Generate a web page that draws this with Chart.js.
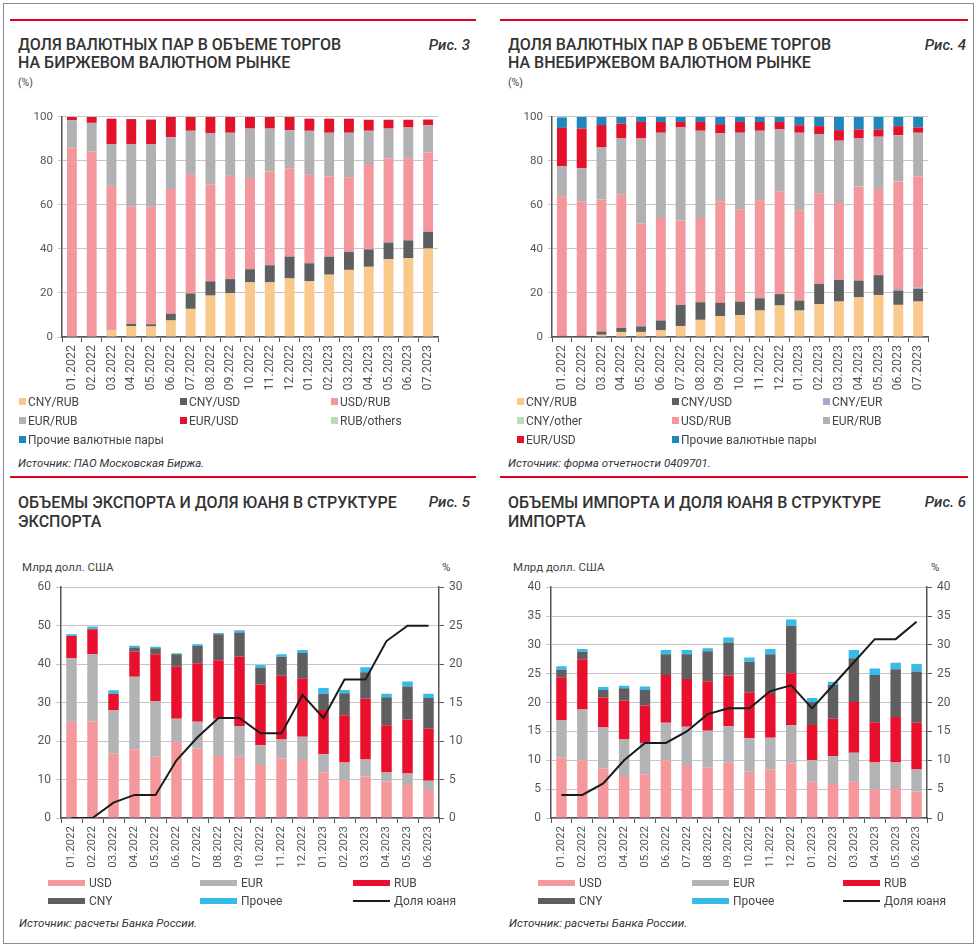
<!DOCTYPE html>
<html lang="ru">
<head>
<meta charset="utf-8">
<script src="https://cdn.jsdelivr.net/npm/chart.js@4.4.1/dist/chart.umd.min.js"></script>
<style>
  body { margin: 0; width: 979px; height: 949px; background: #fff; position: relative; overflow: hidden; font-family: Roboto, sans-serif; color: #333; }
  .frame { position: absolute; left: 3px; top: 3px; width: 971px; height: 941px; border: 1px solid #8c8c8c; box-sizing: border-box; }
  .rule { position: absolute; height: 2px; background: #e2001a; }
  .title { position: absolute; font-size: 16px; font-weight: 500; line-height: 18px; color: #333; white-space: nowrap; }
  .fig { position: absolute; font-size: 15px; font-style: italic; font-weight: 500; color: #333; white-space: nowrap; }
  .unit { position: absolute; font-size: 11.5px; color: #444; white-space: nowrap; }
  .src { position: absolute; font-size: 11.5px; font-style: italic; color: #333; white-space: nowrap; }
  .lg { position: absolute; font-size: 12px; color: #444; white-space: nowrap; line-height: 14px; }
  .lg span { display: inline-block; vertical-align: middle; }
  canvas { position: absolute; }
</style>
</head>
<body>
<div class="frame"></div>

<div class="rule" style="left:10px; top:19px; width:466px;"></div>
<div class="rule" style="left:500px; top:19px; width:468px;"></div>
<div class="rule" style="left:10px; top:476px; width:466px;"></div>
<div class="rule" style="left:500px; top:476px; width:468px;"></div>

<div class="title" style="left:18px; top:36px;">ДОЛЯ ВАЛЮТНЫХ ПАР В ОБЪЕМЕ ТОРГОВ<br>НА БИРЖЕВОМ ВАЛЮТНОМ РЫНКЕ</div>
<div class="fig" style="right:509px; top:36px;">Рис. 3</div>
<div class="unit" style="left:18px; top:76px; font-size:10.5px;">(%)</div>

<div class="title" style="left:508px; top:36px;">ДОЛЯ ВАЛЮТНЫХ ПАР В ОБЪЕМЕ ТОРГОВ<br>НА ВНЕБИРЖЕВОМ ВАЛЮТНОМ РЫНКЕ</div>
<div class="fig" style="right:13px; top:36px;">Рис. 4</div>
<div class="unit" style="left:508px; top:76px; font-size:10.5px;">(%)</div>

<div class="title" style="left:18px; top:493px; line-height:19px;">ОБЪЕМЫ ЭКСПОРТА И ДОЛЯ ЮАНЯ В СТРУКТУРЕ<br>ЭКСПОРТА</div>
<div class="fig" style="right:509px; top:493px;">Рис. 5</div>
<div class="unit" style="left:22px; top:560px;">Млрд долл. США</div>
<div class="unit" style="left:442px; top:560px;">%</div>

<div class="title" style="left:508px; top:493px; line-height:19px;">ОБЪЕМЫ ИМПОРТА И ДОЛЯ ЮАНЯ В СТРУКТУРЕ<br>ИМПОРТА</div>
<div class="fig" style="right:13px; top:493px;">Рис. 6</div>
<div class="unit" style="left:513px; top:560px;">Млрд долл. США</div>
<div class="unit" style="left:931px; top:560px;">%</div>

<canvas id="fig3" width="470" height="292" style="left:10px; top:105px;"></canvas>
<canvas id="fig4" width="470" height="292" style="left:500px; top:105px;"></canvas>
<canvas id="fig5" width="470" height="303" style="left:10px; top:575px;"></canvas>
<canvas id="fig6" width="470" height="303" style="left:500px; top:575px;"></canvas>

<div class="src" style="left:18px; top:456px;">Источник: ПАО Московская Биржа.</div>
<div class="src" style="left:508px; top:456px;">Источник: форма отчетности 0409701.</div>
<div class="src" style="left:19px; top:916px;">Источник: расчеты Банка России.</div>
<div class="src" style="left:509px; top:916px;">Источник: расчеты Банка России.</div>

<script>
// подписи месяцев
const months19 = ['01.2022', '02.2022', '03.2022', '04.2022', '05.2022', '06.2022', '07.2022', '08.2022', '09.2022', '10.2022', '11.2022', '12.2022', '01.2023', '02.2023', '03.2023', '04.2023', '05.2023', '06.2023', '07.2023'];
const months18 = ['01.2022', '02.2022', '03.2022', '04.2022', '05.2022', '06.2022', '07.2022', '08.2022', '09.2022', '10.2022', '11.2022', '12.2022', '01.2023', '02.2023', '03.2023', '04.2023', '05.2023', '06.2023'];

// Рис. 3 - биржевой рынок, %
const birzhaCnyRub = [0, 0, 3, 5, 4.8, 7.5, 12.8, 18.8, 20, 24.8, 24.8, 26.6, 25.3, 28.3, 30.5, 31.9, 35.3, 35.8, 40.2];
const birzhaCnyUsd = [0, 0, 0, 1, 1, 3, 7, 6.5, 6.3, 6, 7.8, 9.9, 8.2, 8.2, 8.1, 7.9, 7.6, 8.1, 7.6];
const birzhaUsdRub = [86, 84.2, 65.7, 53.4, 53.4, 56.7, 53.9, 43.9, 46.9, 41.4, 42.6, 40.2, 40.2, 36.5, 34, 38.8, 38.3, 37.3, 36];
const birzhaEurRub = [12.5, 13.1, 19, 28.3, 28.3, 23.5, 20, 23.3, 19.6, 22.5, 19.5, 17.3, 20, 19.8, 20.2, 15.1, 13.5, 14, 12.4];
const birzhaEurUsd = [1.5, 2.7, 11.5, 11.3, 11.3, 9.3, 6.3, 7.5, 7.2, 5.3, 5.3, 6, 5.5, 6.4, 6.4, 5, 4, 3.5, 2.6];
const birzhaRubOthers = [0, 0, 0, 0, 0, 0, 0, 0, 0, 0, 0, 0, 0, 0, 0, 0, 0, 0, 0];
const birzhaOther = [0, 0, 0, 0, 0, 0, 0, 0, 0, 0, 0, 0, 0, 0, 0, 0, 0, 0, 0];

// Рис. 4 - внебиржевой рынок, %
const otcCnyRub = [0, 0, 1, 2.3, 2.3, 3, 5, 7.8, 9.5, 10, 12, 14.3, 12, 15, 16.1, 18, 19.1, 14.6, 16.1];
const otcCnyUsd = [0.5, 0.5, 1.5, 1.8, 2.5, 4.5, 9.6, 8, 6, 6.1, 5.6, 5.2, 4.5, 9.1, 9.9, 7.6, 9, 6.5, 5.7];
const otcCnyEur = [0, 0, 0, 0, 0, 0, 0, 0, 0, 0, 0, 0, 0, 0, 0, 0, 0, 0.7, 0.7];
const otcCnyOther = [0, 0, 0, 0, 0, 0, 0, 0, 0, 0, 0, 0, 0, 0, 0, 0, 0, 0, 0];
const otcUsdRub = [63.2, 61.2, 60, 60.6, 46.8, 46.6, 38.3, 38.3, 46.2, 41.8, 44.5, 46.7, 41.1, 41, 34.9, 42.8, 39.1, 48.9, 50.4];
const otcEurRub = [13.8, 15, 23.6, 25.5, 38.6, 38.7, 42.3, 39.6, 30.8, 34.9, 31.6, 28.1, 35.2, 27.1, 28.3, 21.8, 23.8, 21, 19.9];
const otcEurUsd = [17.5, 18, 10.2, 6.8, 7.5, 4.9, 2.5, 4, 4.2, 4.9, 4, 3.4, 3.4, 3.6, 4.8, 4.1, 3.3, 4.1, 2.4];
const otcOther = [4.8, 5.3, 3.8, 3, 2.3, 2.3, 2.3, 2.3, 3.3, 2.3, 2.3, 2.3, 3.8, 4.2, 6, 5.7, 5.7, 4.2, 4.8];

// Рис. 5 - экспорт, млрд долл. США и доля юаня, %
const expUsd = [25, 25.1, 16.8, 17.8, 15.9, 19.8, 18.1, 16.1, 15.9, 13.8, 15.5, 15.1, 11.8, 9.9, 10.8, 9.5, 8.6, 7.3];
const expEur = [16.6, 17.5, 11.3, 18.9, 14.5, 6, 6.9, 9.7, 8, 5.1, 4.9, 6, 4.8, 4.5, 4.4, 2.3, 3, 2.4];
const expRub = [5.7, 6.5, 4.2, 6.6, 12.2, 13.5, 15.2, 15.2, 18, 15.8, 16.6, 15.2, 11.5, 12.3, 15.8, 12.3, 14, 13.5];
const expCny = [0, 0, 0, 1, 1.5, 3.3, 4.5, 6.8, 6.3, 4.3, 4.9, 6.6, 4.2, 5.7, 6.9, 7.3, 8.6, 8];
const expOther = [0.5, 0.7, 0.9, 0.5, 0.4, 0.2, 0.5, 0.3, 0.6, 0.8, 0.7, 0.8, 1.5, 0.9, 1.3, 0.9, 1.3, 1.1];
const expCnyShare = [0, 0, 2, 3, 3, 7.5, 10.5, 13, 13, 11, 11, 16, 13, 18, 18, 23, 25, 25];

// Рис. 6 - импорт, млрд долл. США и доля юаня, %
const impUsd = [10.5, 10, 8.6, 7.3, 7.6, 10, 9.2, 8.8, 9.6, 8, 8.4, 9.5, 6.3, 5.9, 6.3, 5, 5.2, 4.6];
const impEur = [6.5, 8.8, 7.1, 6.3, 5.4, 6.5, 6.6, 6.3, 6.3, 5.8, 5.5, 6.6, 3.7, 4.8, 5, 4.6, 4.4, 3.8];
const impRub = [7.4, 8.7, 5.2, 6.7, 6.5, 8.3, 8.3, 8.6, 8.8, 8, 7.6, 9, 6.1, 6.5, 8.8, 7, 7.9, 8.1];
const impCny = [1.3, 1.3, 1.3, 2.2, 2.7, 3.6, 4.3, 5.2, 5.7, 5.3, 6.9, 8.2, 4, 5.9, 7.6, 8.2, 8.3, 8.9];
const impOther = [0.6, 0.5, 0.5, 0.4, 0.6, 0.7, 0.7, 0.5, 0.9, 0.7, 0.9, 1.1, 0.7, 0.5, 1.4, 1.1, 1.1, 1.3];
const impCnyShare = [4, 4, 6, 10, 13, 13, 15, 18, 19, 19, 22, 23, 19, 23, 27, 31, 31, 34];

const colors = {
    cnyRub: '#f9c98c', cnyUsd: '#5e5f61', cnyEur: '#a9a7cf', cnyOther: '#bddcbd',
    usdRub: '#f3979c', eurRub: '#b1b1b3', eurUsd: '#e4112b', rubOthers: '#b8dcb8', other: '#1e88bd',
    usd: '#f4989c', eur: '#b3b3b5', rub: '#e8102c', cny: '#5f5f61', prochee: '#35bce8', line: '#1b1b1b'
};

Chart.defaults.font.family = 'Roboto, sans-serif';
Chart.defaults.color = '#555';

function barSet(label, data, color) {
    return { label: label, data: data, backgroundColor: color, barPercentage: 0.5, categoryPercentage: 1, order: 1 };
}

function shareChart(id, labels, datasets) {
    return new Chart(document.getElementById(id), {
        type: 'bar',
        data: { labels: labels, datasets: datasets },
        options: {
            responsive: false,
            animation: false,
            layout: { padding: { top: 8, right: 42, left: 0, bottom: 0 } },
            plugins: { legend: { display: false }, tooltip: { enabled: false } },
            scales: {
                x: {
                    stacked: true,
                    grid: { drawOnChartArea: false, color: '#555', tickLength: 5, offset: true },
                    border: { color: '#555', width: 1.5 },
                    ticks: { color: '#555', font: { size: 12.5 }, minRotation: 90, maxRotation: 90, autoSkip: false, padding: 3 },
                    afterFit: (s) => { s.height = 60; }
                },
                y: {
                    stacked: true, min: 0, max: 100,
                    ticks: { stepSize: 20, color: '#555', font: { size: 11.5 }, padding: 5 },
                    grid: { color: '#c6c6c6', tickLength: 4 },
                    border: { color: '#555', width: 1.5 },
                    afterFit: (s) => { s.width = 52; }
                }
            }
        }
    });
}

function tradeChart(id, labels, datasets, leftMax, leftStep, rightMax, rightW) {
    return new Chart(document.getElementById(id), {
        type: 'bar',
        data: { labels: labels, datasets: datasets },
        options: {
            responsive: false,
            animation: false,
            layout: { padding: { top: 8, right: 0, left: 0, bottom: 0 } },
            plugins: { legend: { display: false }, tooltip: { enabled: false } },
            scales: {
                x: {
                    stacked: true,
                    grid: { drawOnChartArea: false, color: '#555', tickLength: 5, offset: true },
                    border: { color: '#555', width: 1.5 },
                    ticks: { color: '#555', font: { size: 11.5 }, minRotation: 90, maxRotation: 90, autoSkip: false, padding: 3 },
                    afterFit: (s) => { s.height = 60; }
                },
                y: {
                    stacked: true, min: 0, max: leftMax,
                    ticks: { stepSize: leftStep, color: '#555', font: { size: 12 }, padding: 5 },
                    grid: { color: '#c6c6c6', tickLength: 5 },
                    border: { color: '#555', width: 1.5 },
                    afterFit: (s) => { s.width = 51; }
                },
                y1: {
                    position: 'right', min: 0, max: rightMax,
                    ticks: { stepSize: 5, color: '#555', font: { size: 12 }, padding: 5 },
                    grid: { drawOnChartArea: false, color: '#555', tickLength: 5 },
                    border: { color: '#555', width: 1.5 },
                    afterFit: (s) => { s.width = rightW; }
                }
            }
        }
    });
}

function lineSet(label, data) {
    return { type: 'line', label: label, data: data, yAxisID: 'y1', borderColor: colors.line, borderWidth: 2, pointRadius: 0, tension: 0, fill: false, order: 0 };
}

// легенда под графиком, по три элемента в строке
function makeLegend(chart, left, top, cols, rowH, wide) {
    chart.data.datasets.forEach((ds, i) => {
        const item = document.createElement('div');
        item.className = 'lg';
        item.style.left = (left + cols[i % 3]) + 'px';
        item.style.top = (top + Math.floor(i / 3) * rowH) + 'px';
        const mark = document.createElement('span');
        if (wide) {
            const isLine = ds.type === 'line';
            mark.style.width = '37px';
            mark.style.height = isLine ? '2px' : '6px';
            mark.style.background = isLine ? ds.borderColor : ds.backgroundColor;
            mark.style.marginRight = '4px';
        } else {
            mark.style.width = '7px';
            mark.style.height = '7px';
            mark.style.background = ds.backgroundColor;
            mark.style.marginRight = '2px';
        }
        const text = document.createElement('span');
        text.textContent = ds.label;
        item.appendChild(mark);
        item.appendChild(text);
        document.body.appendChild(item);
    });
}

const fig3 = shareChart('fig3', months19, [
    barSet('CNY/RUB', birzhaCnyRub, colors.cnyRub),
    barSet('CNY/USD', birzhaCnyUsd, colors.cnyUsd),
    barSet('USD/RUB', birzhaUsdRub, colors.usdRub),
    barSet('EUR/RUB', birzhaEurRub, colors.eurRub),
    barSet('EUR/USD', birzhaEurUsd, colors.eurUsd),
    barSet('RUB/others', birzhaRubOthers, colors.rubOthers),
    barSet('Прочие валютные пары', birzhaOther, colors.other)
]);

const fig4 = shareChart('fig4', months19, [
    barSet('CNY/RUB', otcCnyRub, colors.cnyRub),
    barSet('CNY/USD', otcCnyUsd, colors.cnyUsd),
    barSet('CNY/EUR', otcCnyEur, colors.cnyEur),
    barSet('CNY/other', otcCnyOther, colors.cnyOther),
    barSet('USD/RUB', otcUsdRub, colors.usdRub),
    barSet('EUR/RUB', otcEurRub, colors.eurRub),
    barSet('EUR/USD', otcEurUsd, colors.eurUsd),
    barSet('Прочие валютные пары', otcOther, colors.other)
]);

const fig5 = tradeChart('fig5', months18, [
    barSet('USD', expUsd, colors.usd),
    barSet('EUR', expEur, colors.eur),
    barSet('RUB', expRub, colors.rub),
    barSet('CNY', expCny, colors.cny),
    barSet('Прочее', expOther, colors.prochee),
    lineSet('Доля юаня', expCnyShare)
], 60, 10, 30, 41);

const fig6 = tradeChart('fig6', months18, [
    barSet('USD', impUsd, colors.usd),
    barSet('EUR', impEur, colors.eur),
    barSet('RUB', impRub, colors.rub),
    barSet('CNY', impCny, colors.cny),
    barSet('Прочее', impOther, colors.prochee),
    lineSet('Доля юаня', impCnyShare)
], 40, 5, 40, 43);

makeLegend(fig3, 19, 394, [0, 161, 312], 19, false);
makeLegend(fig4, 517, 394, [0, 155, 306], 19, false);
makeLegend(fig5, 48, 875, [0, 152, 305], 18, true);
makeLegend(fig6, 538, 875, [0, 154, 305], 18, true);
</script>
</body>
</html>
